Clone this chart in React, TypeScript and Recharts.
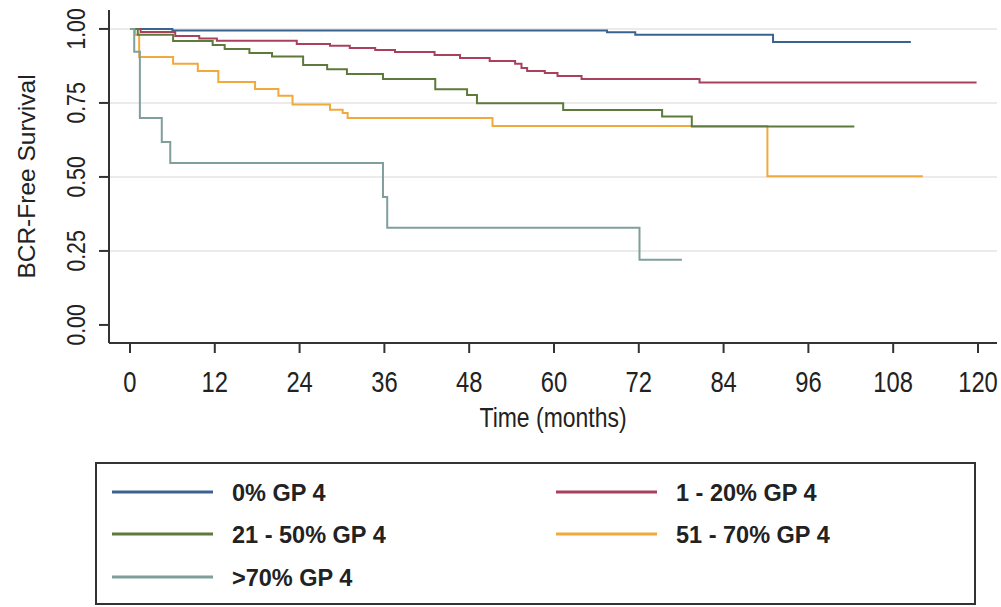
import React from 'react';
import { LineChart, Line, XAxis, YAxis, ReferenceLine } from 'recharts';

const FONT = '"Liberation Sans", Arial, Helvetica, sans-serif';

const seriesNames = ['0% GP 4', '1 - 20% GP 4', '21 - 50% GP 4', '51 - 70% GP 4', '>70% GP 4'];
const seriesColors = ['#3a6390', '#a8405e', '#5e7a3a', '#f2a93b', '#7f9e9c'];

const gp0Times = [0, 6, 67.5, 71.5, 91, 110.5];
const gp0Surv = [1, 0.995, 0.989, 0.98, 0.956, 0.956];

const gp1Times = [0, 1.5, 6.4, 9.8, 12.3, 23.6, 28.3, 31.1, 34.7, 37.5, 43.1, 46.7, 50.9, 54.5, 55.4, 56.2, 58.7, 60.5, 63.9, 80.6, 119.8];
const gp1Surv = [1, 0.99, 0.976, 0.968, 0.96, 0.949, 0.943, 0.936, 0.929, 0.922, 0.912, 0.902, 0.892, 0.882, 0.868, 0.858, 0.851, 0.841, 0.831, 0.819, 0.819];

const gp2Times = [0, 1.1, 6.1, 11.7, 13.4, 16.9, 20.1, 24.5, 27.9, 30.7, 35.8, 43.2, 47.7, 49.1, 61.3, 75.3, 79.5, 102.5];
const gp2Surv = [1, 0.98, 0.959, 0.946, 0.932, 0.919, 0.907, 0.878, 0.864, 0.848, 0.831, 0.796, 0.777, 0.749, 0.726, 0.704, 0.67, 0.67];

const gp3Times = [0, 0.7, 1.3, 6.1, 9.6, 12.5, 17.7, 21, 23, 28.3, 30.1, 30.8, 51.3, 90.2, 112.2];
const gp3Surv = [1, 0.98, 0.905, 0.882, 0.858, 0.821, 0.797, 0.774, 0.745, 0.727, 0.716, 0.699, 0.672, 0.502, 0.502];

const gp4Times = [0, 0.6, 1.4, 4.5, 5.7, 35.8, 36.4, 72.1, 78.1];
const gp4Surv = [1, 0.923, 0.699, 0.618, 0.547, 0.432, 0.328, 0.22, 0.22];

const xTicks = [0, 12, 24, 36, 48, 60, 72, 84, 96, 108, 120];
const yTicks = [0, 0.25, 0.5, 0.75, 1];
const yTickLabels = ['0.00', '0.25', '0.50', '0.75', '1.00'];
const gridValues = [0.25, 0.5, 0.75, 1];

const toData = (t: number[], s: number[]) => t.map((v, i) => ({ t: v, s: s[i] }));

const series = [
  toData(gp0Times, gp0Surv),
  toData(gp1Times, gp1Surv),
  toData(gp2Times, gp2Surv),
  toData(gp3Times, gp3Surv),
  toData(gp4Times, gp4Surv),
];
const drawOrder = [0, 1, 3, 2, 4];

const XTick = (props: any) => {
  const { x, y, payload } = props;
  return (
    <text
      transform={`translate(${x},${y + 36.5}) scale(0.82,1)`}
      textAnchor="middle"
      fontFamily={FONT}
      fontSize={29}
      fill="#222"
    >
      {payload.value}
    </text>
  );
};

const YTick = (props: any) => {
  const { x, y, payload } = props;
  const idx = yTicks.indexOf(payload.value);
  return (
    <text
      transform={`translate(${x - 12},${y}) rotate(-90) scale(0.85,1)`}
      textAnchor="middle"
      fontFamily={FONT}
      fontSize={25}
      fill="#222"
    >
      {idx >= 0 ? yTickLabels[idx] : payload.value}
    </text>
  );
};

const XLabel = (props: any) => {
  const vb = props.viewBox || { x: 109, y: 343, width: 888, height: 100 };
  return (
    <text
      transform={`translate(${vb.x + vb.width / 2},${vb.y + 84}) scale(0.82,1)`}
      textAnchor="middle"
      fontFamily={FONT}
      fontSize={28}
      fill="#222"
    >
      Time (months)
    </text>
  );
};

const YLabel = (props: any) => {
  const vb = props.viewBox || { x: 0, y: 10, width: 109, height: 333 };
  return (
    <text
      transform={`translate(${vb.x + 35},${vb.y + vb.height / 2}) rotate(-90)`}
      textAnchor="middle"
      fontFamily={FONT}
      fontSize={24.5}
      fill="#222"
    >
      BCR-Free Survival
    </text>
  );
};

const legendRows = [
  { i: 0, col: 0, row: 0 },
  { i: 1, col: 1, row: 0 },
  { i: 2, col: 0, row: 1 },
  { i: 3, col: 1, row: 1 },
  { i: 4, col: 0, row: 2 },
];
const legendRowY = [492, 534, 577];
const legendColX = [112, 556];

const LegendBox = () => (
  <svg width={1001} height={607} style={{ position: 'absolute', left: 0, top: 0, pointerEvents: 'none' }}>
    <rect x={96} y={463} width={879} height={141} fill="none" stroke="#333" strokeWidth={2} />
    {legendRows.map((r) => (
      <g key={r.i}>
        <line
          x1={legendColX[r.col]}
          x2={legendColX[r.col] + 101}
          y1={legendRowY[r.row]}
          y2={legendRowY[r.row]}
          stroke={seriesColors[r.i]}
          strokeWidth={3}
        />
        <text
          x={legendColX[r.col] + 120}
          y={legendRowY[r.row] + 8.5}
          fontFamily={FONT}
          fontSize={23.5}
          fontWeight="bold"
          fill="#222"
        >
          {seriesNames[r.i]}
        </text>
      </g>
    ))}
  </svg>
);

export default function App() {
  return (
    <div style={{ position: 'absolute', left: 0, top: 0, width: 1001, height: 607, background: '#fff' }}>
      <LineChart width={1001} height={607} margin={{ top: 10, right: 4, left: 0, bottom: 164 }}>
        <XAxis
          dataKey="t"
          type="number"
          domain={[-2.97, 122.69]}
          ticks={xTicks}
          interval={0}
          allowDataOverflow
          height={100}
          tickSize={10}
          tickMargin={2}
          axisLine={{ stroke: '#333', strokeWidth: 2 }}
          tickLine={{ stroke: '#333', strokeWidth: 2 }}
          tick={<XTick />}
          label={(p: any) => <XLabel {...p} />}
        />
        <YAxis
          type="number"
          domain={[-0.061, 1.064]}
          ticks={yTicks}
          interval={0}
          allowDataOverflow
          width={109}
          tickSize={10}
          tickMargin={2}
          axisLine={{ stroke: '#333', strokeWidth: 2 }}
          tickLine={{ stroke: '#333', strokeWidth: 2 }}
          tick={<YTick />}
          label={(p: any) => <YLabel {...p} />}
        />
        {gridValues.map((g) => (
          <ReferenceLine key={g} y={g} stroke="#e4e4e4" strokeWidth={1.5} />
        ))}
        {drawOrder.map((i) => (
          <Line
            key={i}
            data={series[i]}
            dataKey="s"
            name={seriesNames[i]}
            type="stepAfter"
            stroke={seriesColors[i]}
            strokeWidth={2}
            dot={false}
            activeDot={false}
            isAnimationActive={false}
          />
        ))}
      </LineChart>
      <LegendBox />
    </div>
  );
}
